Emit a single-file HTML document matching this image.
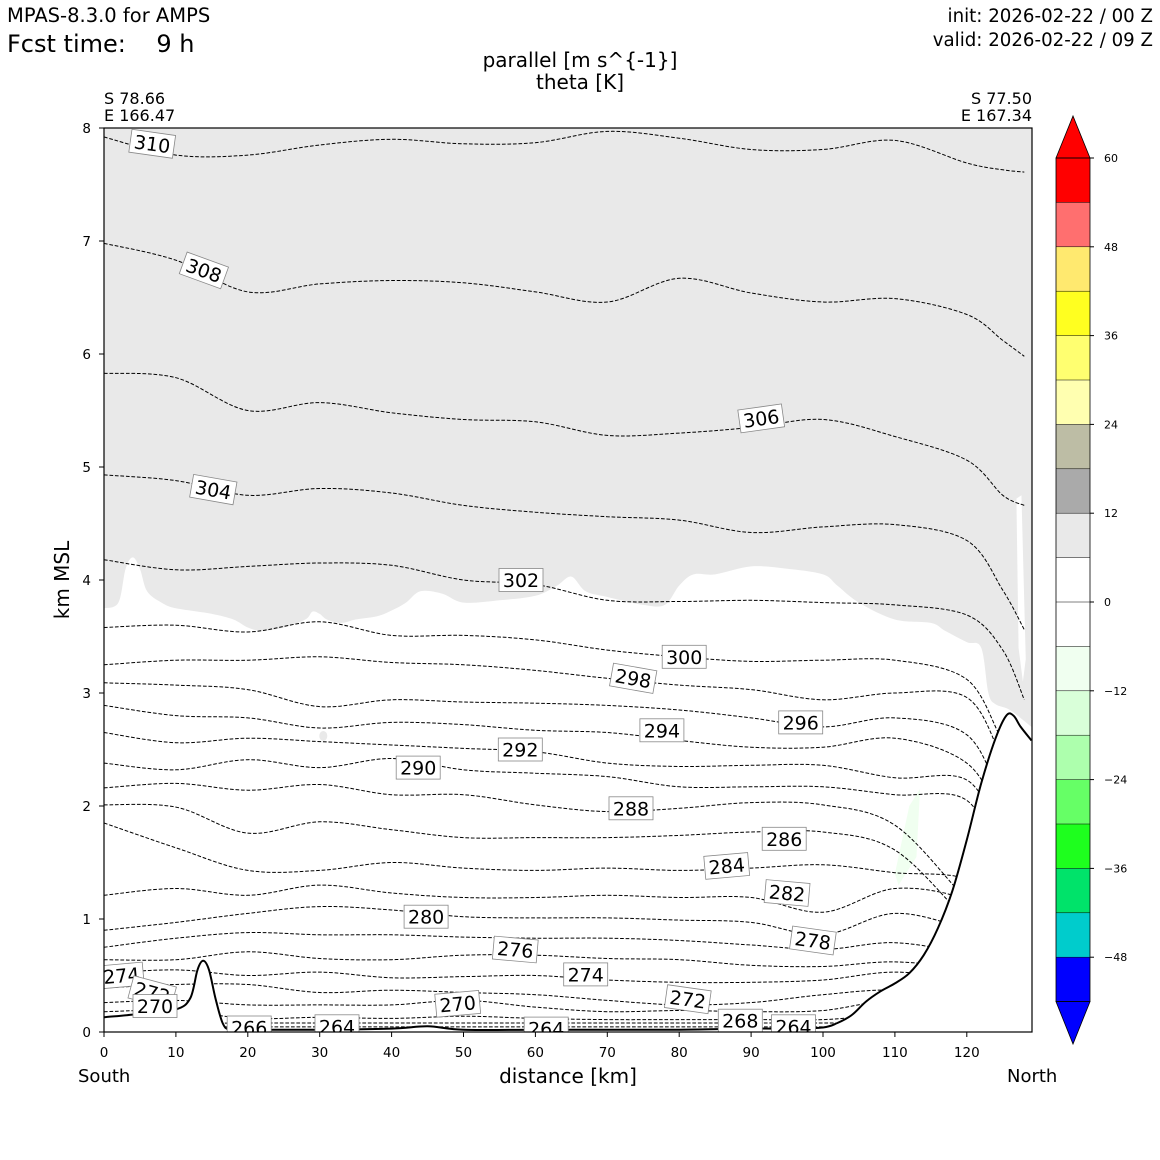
<!DOCTYPE html>
<html><head><meta charset="utf-8"><style>
html,body{margin:0;padding:0;background:#fff;}
svg{display:block;font-family:"DejaVu Sans","Liberation Sans",sans-serif;}
</style></head><body>
<svg id="chart" width="1160" height="1160" viewBox="0 0 1160 1160" xmlns="http://www.w3.org/2000/svg">
<rect width="1160" height="1160" fill="#fff"/>
<text x="7" y="22" font-size="19.5">MPAS-8.3.0 for AMPS</text>
<text x="7" y="52" font-size="24" xml:space="preserve">Fcst time:    9 h</text>
<text x="1153" y="22" font-size="18.2" text-anchor="end">init: 2026-02-22 / 00 Z</text>
<text x="1153" y="46" font-size="18.2" text-anchor="end">valid: 2026-02-22 / 09 Z</text>
<text x="580" y="67" font-size="20" text-anchor="middle">parallel [m s^{-1}]</text>
<text x="580" y="89" font-size="20" text-anchor="middle">theta [K]</text>
<text x="104" y="104" font-size="16">S 78.66</text>
<text x="104" y="121" font-size="16">E 166.47</text>
<text x="1032" y="104" font-size="16" text-anchor="end">S 77.50</text>
<text x="1032" y="121" font-size="16" text-anchor="end">E 167.34</text>
<text x="78" y="1082" font-size="18">South</text>
<text x="1007" y="1082" font-size="18">North</text>
<text x="568" y="1083" font-size="20" text-anchor="middle">distance [km]</text>
<text x="0" y="0" font-size="20" text-anchor="middle" transform="translate(69,580) rotate(-90)">km MSL</text>
<g id="plot"></g>
<g id="cbar"></g>
</svg>
<script>
const NS="http://www.w3.org/2000/svg";
// ---- data ----
const gridX=[0,10,20,30,40,50,60,70,80,90,100,110,120,125,128];
const line310=[7.92,7.76,7.76,7.85,7.90,7.86,7.87,7.97,7.91,7.81,7.81,7.89,7.69,7.63,7.61];
const line308=[6.98,6.83,6.55,6.62,6.65,6.63,6.55,6.46,6.67,6.54,6.46,6.49,6.35,6.12,5.98];
const line306=[5.83,5.79,5.50,5.57,5.48,5.42,5.40,5.28,5.30,5.35,5.42,5.27,5.06,4.75,4.66];
const line304=[4.93,4.88,4.75,4.81,4.77,4.66,4.60,4.56,4.53,4.42,4.47,4.49,4.35,3.91,3.56];
const line302=[4.18,4.09,4.12,4.15,4.13,4.00,3.96,3.82,3.81,3.82,3.80,3.78,3.69,3.38,2.94];
const line300=[3.58,3.60,3.54,3.63,3.51,3.51,3.47,3.38,3.32,3.28,3.29,3.29,3.12,2.58,2.41];
const line298=[3.25,3.29,3.29,3.32,3.27,3.25,3.20,3.13,3.07,3.03,2.94,3.00,2.96,2.41,2.05];
const line296=[3.09,3.07,3.03,2.88,2.94,2.92,2.91,2.89,2.85,2.78,2.70,2.78,2.63,2.05,1.79];
const line294=[2.89,2.80,2.78,2.69,2.74,2.72,2.67,2.65,2.58,2.52,2.52,2.60,2.38,1.88,1.61];
const line292=[2.65,2.56,2.60,2.57,2.54,2.51,2.48,2.38,2.35,2.36,2.36,2.25,2.23,1.70,1.43];
const line290=[2.38,2.32,2.41,2.34,2.42,2.32,2.29,2.26,2.17,2.17,2.17,2.10,2.05,1.43,1.17];
const line288=[2.16,2.20,2.14,2.19,2.10,2.10,2.01,1.95,1.98,2.03,2.01,1.83,1.17,0.90,0.80];
const line286=[2.01,1.99,1.76,1.86,1.79,1.72,1.72,1.72,1.74,1.77,1.77,1.61,0.99,0.73,0.60];
const line284=[1.85,1.63,1.43,1.43,1.50,1.45,1.43,1.45,1.43,1.45,1.48,1.41,1.35,1.00,0.80];
const line282=[1.21,1.27,1.21,1.30,1.23,1.19,1.19,1.21,1.19,1.19,1.06,1.27,1.17,0.90,0.70];
const line280=[0.90,0.97,1.05,1.11,1.08,1.02,1.01,1.01,0.99,0.97,0.86,1.05,0.90,0.70,0.50];
const line278=[0.75,0.83,0.88,0.86,0.86,0.84,0.83,0.83,0.81,0.77,0.73,0.79,0.68,0.50,0.40];
const line276=[0.64,0.64,0.71,0.65,0.64,0.68,0.68,0.65,0.64,0.59,0.58,0.62,0.55,0.40,0.30];
const line274=[0.52,0.55,0.50,0.53,0.48,0.49,0.50,0.46,0.44,0.44,0.46,0.53,0.46,0.40,0.30];
const line272=[0.39,0.42,0.42,0.35,0.37,0.35,0.33,0.28,0.24,0.26,0.33,0.37,0.28,0.20,0.20];
const line270=[0.26,0.28,0.24,0.24,0.24,0.28,0.22,0.18,0.19,0.18,0.19,0.28,0.19,0.10,0.10];
const line268=[0.18,0.19,0.12,0.13,0.12,0.14,0.12,0.11,0.11,0.11,0.11,0.15,0.10,0.10,0.10];
const line266=[0.12,0.08,0.08,0.08,0.08,0.08,0.08,0.08,0.08,0.08,0.08,0.08,0.08,0.08,0.08];
const line264=[0.045,0.045,0.045,0.045,0.045,0.045,0.045,0.045,0.045,0.045,0.045,0.045,0.045,0.045,0.045];
const thetaLevels=[310,308,306,304,302,300,298,296,294,292,290,288,286,284,282,280,278,276,274,272,270,268,266,264];
const thetaLines=[line310,line308,line306,line304,line302,line300,line298,line296,line294,line292,line290,line288,line286,line284,line282,line280,line278,line276,line274,line272,line270,line268,line266,line264];

const terrainX=[0,5,10,12,13,13.8,14.6,15.5,16.5,17.5,20,30,40,45,50,60,70,80,90,95,100,102,104,106,108,110,112,114,116,118,120,122,124,125.5,126.5,127.5,129];
const terrainZ=[0.13,0.16,0.2,0.3,0.55,0.63,0.55,0.3,0.08,0.02,0.02,0.02,0.03,0.05,0.02,0.02,0.02,0.02,0.03,0.03,0.04,0.08,0.15,0.27,0.36,0.43,0.52,0.68,0.92,1.25,1.7,2.2,2.6,2.8,2.8,2.7,2.58];

const grayX=[0,2,3,4,5,6,8,10,15,18,20,22,25,28,29,30,31,33,35,38,40,42,44,47,50,55,60,63,65,67,70,75,78,80,82,85,90,95,100,102,105,110,115,117,120,122,123,124,126,129];
const grayZ=[3.75,3.8,4.1,4.2,4.1,3.9,3.8,3.75,3.7,3.65,3.58,3.55,3.58,3.65,3.72,3.7,3.65,3.62,3.65,3.68,3.73,3.8,3.9,3.88,3.8,3.82,3.86,3.95,4.03,3.9,3.85,3.78,3.78,3.95,4.05,4.05,4.12,4.1,4.05,3.95,3.8,3.65,3.62,3.55,3.45,3.4,3.0,2.9,2.85,2.7];

const labelText=["310","308","306","304","302","300","298","296","294","292","290","288","286","284","282","280","278","276","274","274","272","270","272","270","268","266","264","264","264"];
const labelKm=[6.7,13.9,91.4,15.2,58.0,80.7,73.6,96.9,77.6,57.9,43.7,73.3,94.6,86.6,95.0,44.8,98.6,57.2,67.0,2.4,6.7,7.1,81.2,49.2,88.5,20.2,32.4,61.5,95.9];
const labelZ=[7.86,6.74,5.43,4.80,4.00,3.32,3.13,2.74,2.67,2.50,2.34,1.98,1.71,1.47,1.23,1.02,0.81,0.73,0.51,0.50,0.35,0.23,0.29,0.25,0.10,0.04,0.05,0.03,0.05];
const labelRot=[8,20,-8,10,0,0,10,0,0,0,0,0,0,-5,5,0,8,5,0,-5,15,0,8,-5,0,0,0,0,0];

const cbLevels=[-54,-48,-42,-36,-30,-24,-18,-12,-6,0,6,12,18,24,30,36,42,48,54,60];
const cbColors=["#0000ff","#00cccc","#00e36a","#1eff1e","#66ff66","#adffad","#d9ffd9","#f0fff0","#ffffff","#ffffff","#e9e9e9","#aaaaaa","#bdbda5","#ffffb0","#ffff70","#ffff20","#ffe96f","#ff6f6f","#ff0000"];
const cbTicks=[60,48,36,24,12,0,-12,-24,-36,-48];
const xTicks=[0,10,20,30,40,50,60,70,80,90,100,110,120];
const yTicks=[0,1,2,3,4,5,6,7,8];

// ---- scales ----
const sx=k=>104+k*7.19;
const sy=z=>1032-z*113;
const cy=v=>602-v*7.4;
const plot=document.getElementById('plot');
const cbar=document.getElementById('cbar');
function mk(tag,attrs,parent){const e=document.createElementNS(NS,tag);for(const k in attrs)e.setAttribute(k,attrs[k]);parent.appendChild(e);return e;}
function smooth(pts){
  let d=`M${pts[0][0].toFixed(1)},${pts[0][1].toFixed(1)}`;
  for(let i=0;i<pts.length-1;i++){
    const p0=pts[Math.max(0,i-1)],p1=pts[i],p2=pts[i+1],p3=pts[Math.min(pts.length-1,i+2)];
    const c1=[p1[0]+(p2[0]-p0[0])/6,p1[1]+(p2[1]-p0[1])/6];
    const c2=[p2[0]-(p3[0]-p1[0])/6,p2[1]-(p3[1]-p1[1])/6];
    d+=`C${c1[0].toFixed(1)},${c1[1].toFixed(1)} ${c2[0].toFixed(1)},${c2[1].toFixed(1)} ${p2[0].toFixed(1)},${p2[1].toFixed(1)}`;
  }
  return d;
}
const clip=mk('clipPath',{id:'pc'},mk('defs',{},plot));
mk('rect',{x:104,y:128,width:928,height:904},clip);
const inner=mk('g',{'clip-path':'url(#pc)'},plot);

const gp=grayX.map((x,i)=>[sx(x),sy(grayZ[i])]);
let gd=smooth(gp)+`L${sx(129)},${sy(8.1)}L${sx(0)},${sy(8.1)}Z`;
const gray=mk('path',{d:gd,fill:'#e9e9e9'},inner);


const ws=mk('path',{d:`M${sx(126.9)},${sy(4.72)}L${sx(127.6)},${sy(4.75)}L${sx(128.2)},${sy(3.3)}L${sx(127.8)},${sy(3.1)}L${sx(127.2)},${sy(3.4)}Z`,fill:'#fff'},inner);


const gb=mk('ellipse',{cx:sx(30.5),cy:sy(2.62),rx:4,ry:5,fill:'#e9e9e9'},inner);


const grn=mk('path',{d:`M${sx(110)},${sy(1.4)}L${sx(112)},${sy(2.0)}L${sx(113.5)},${sy(2.15)}L${sx(113)},${sy(1.55)}L${sx(110.5)},${sy(1.3)}Z`,fill:'#f0fff0'},inner);



thetaLines.forEach((arr,li)=>{
  const pts=gridX.map((x,i)=>[sx(x),sy(arr[i])]);
  const p=mk('path',{d:smooth(pts),fill:'none',stroke:'#000','stroke-width':1,'stroke-dasharray':'3.7,1.8'},inner);
  
  
});

const tp=terrainX.map((x,i)=>[sx(x),sy(terrainZ[i])]);
const td=smooth(tp);
const tf=mk('path',{d:td+`L${sx(129)},${sy(-0.1)}L${sx(0)},${sy(-0.1)}Z`,fill:'#fff'},inner);


const tl=mk('path',{d:td,fill:'none',stroke:'#000','stroke-width':2},inner);



labelText.forEach((t,i)=>{
  const x=sx(labelKm[i]),y=sy(labelZ[i]);
  const g=mk('g',{transform:`translate(${x.toFixed(1)},${y.toFixed(1)}) rotate(${labelRot[i]})`},inner);
  
  
  mk('rect',{x:-22,y:-11.5,width:44,height:23,fill:'#fff',stroke:'#888','stroke-width':0.8},g);
  const tx=mk('text',{x:0,y:7,'font-size':19,'text-anchor':'middle'},g);
  tx.textContent=t;
});

const fr=mk('rect',{x:104,y:128,width:928,height:904,fill:'none',stroke:'#000','stroke-width':1.2},plot);


xTicks.forEach(v=>{
  mk('line',{x1:sx(v),x2:sx(v),y1:1032,y2:1037,stroke:'#000'},plot);
  const t=mk('text',{x:sx(v),y:1057,'font-size':13.5,'text-anchor':'middle'},plot);
  t.textContent=v;
  
  
});
yTicks.forEach(v=>{
  mk('line',{x1:99,x2:104,y1:sy(v),y2:sy(v),stroke:'#000'},plot);
  const t=mk('text',{x:91,y:sy(v)+5,'font-size':13.5,'text-anchor':'end'},plot);
  t.textContent=v;
  
  
});

for(let i=0;i<cbColors.length;i++){
  const r=mk('rect',{x:1056,y:cy(cbLevels[i+1]),width:34,height:cy(cbLevels[i])-cy(cbLevels[i+1]),fill:cbColors[i]},cbar);
  
  
  mk('line',{x1:1056,x2:1090,y1:cy(cbLevels[i]),y2:cy(cbLevels[i]),stroke:'#000','stroke-width':0.5},cbar);
}
const tt=mk('path',{d:`M1056,${cy(60)}L1073,116L1090,${cy(60)}Z`,fill:'#ff0000',stroke:'#000','stroke-width':0.8},cbar);


const bt=mk('path',{d:`M1056,${cy(-54)}L1073,1044L1090,${cy(-54)}Z`,fill:'#0000ff',stroke:'#000','stroke-width':0.8},cbar);


mk('rect',{x:1056,y:cy(60),width:34,height:cy(-54)-cy(60),fill:'none',stroke:'#000','stroke-width':0.8},cbar);
cbTicks.forEach(v=>{
  mk('line',{x1:1090,x2:1094,y1:cy(v),y2:cy(v),stroke:'#000'},cbar);
  const t=mk('text',{x:1104,y:cy(v)+4,'font-size':11},cbar);
  t.textContent=v<0?'\u2212'+Math.abs(v):String(v);
  
  
});
</script>
</body></html>
